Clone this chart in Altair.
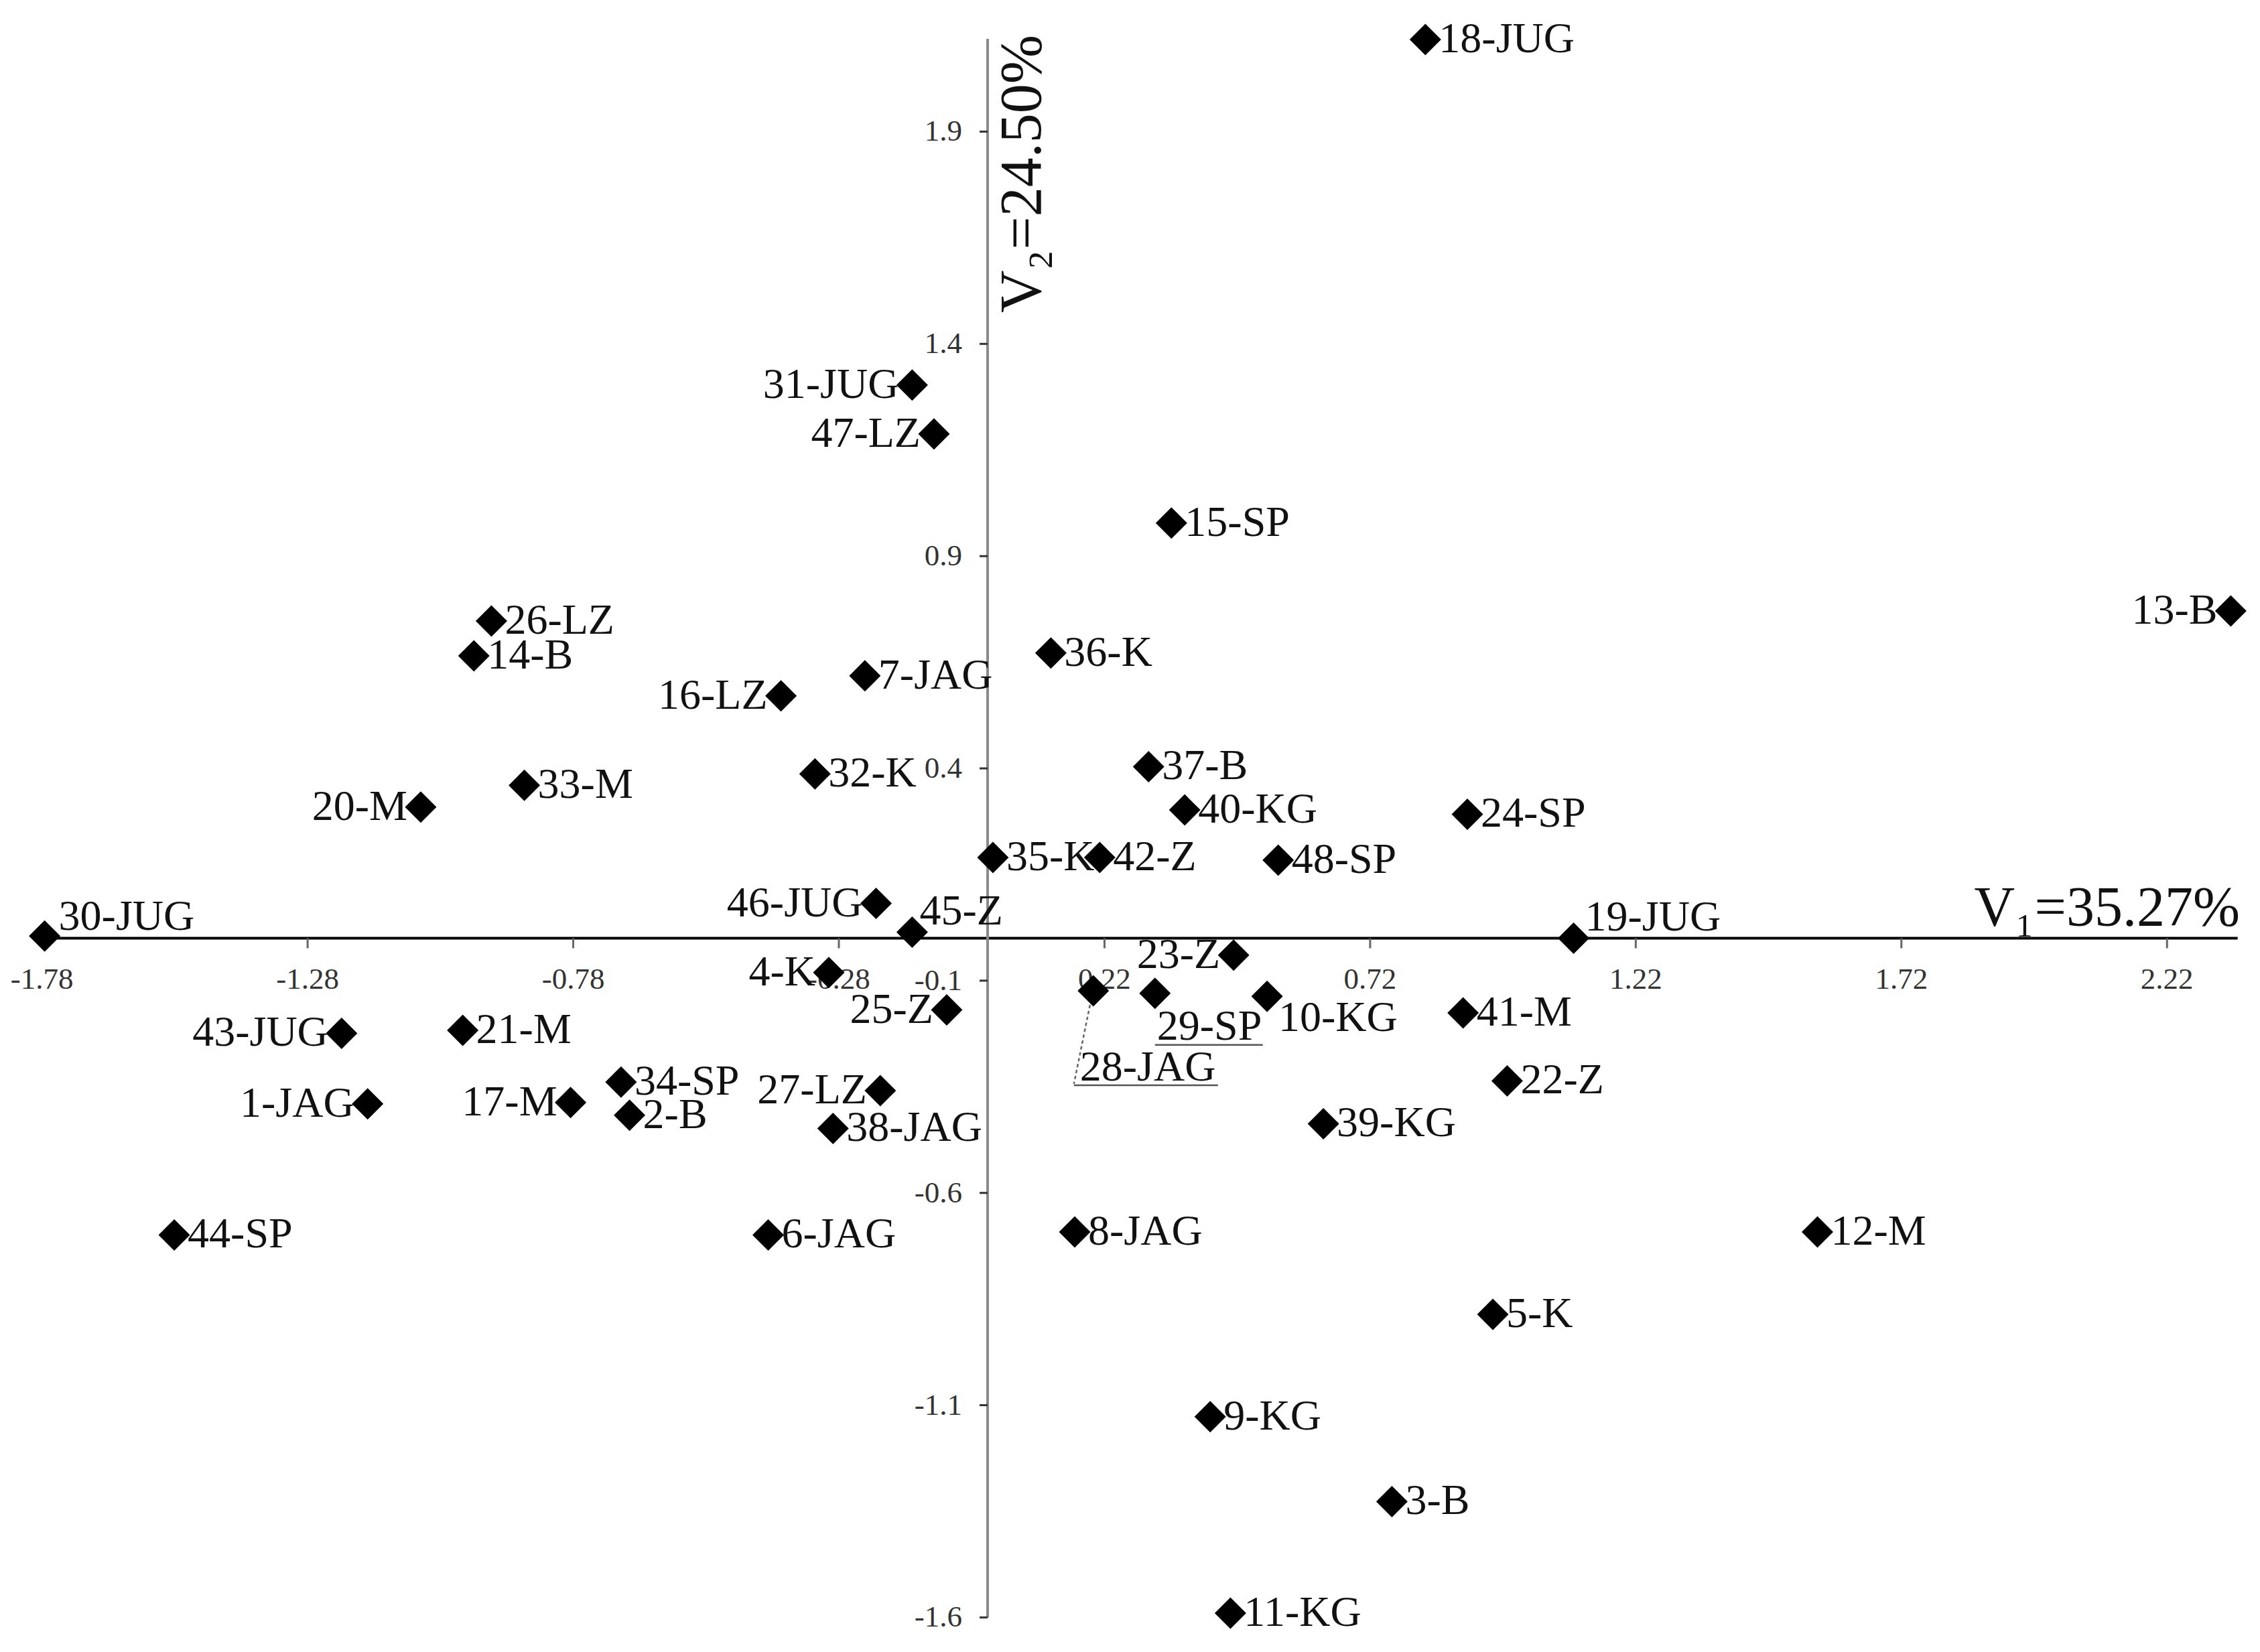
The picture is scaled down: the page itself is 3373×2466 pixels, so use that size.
import altair as alt
import pandas as pd

# ---------------- data ----------------
labels = ["1-JAG", "2-B", "3-B", "4-K", "5-K", "6-JAG", "7-JAG", "8-JAG", "9-KG", "10-KG",
          "11-KG", "12-M", "13-B", "14-B", "15-SP", "16-LZ", "17-M", "18-JUG", "19-JUG", "20-M",
          "21-M", "22-Z", "23-Z", "24-SP", "25-Z", "26-LZ", "27-LZ", "28-JAG", "29-SP", "30-JUG",
          "31-JUG", "32-K", "33-M", "34-SP", "35-K", "36-K", "37-B", "38-JAG", "39-KG", "40-KG",
          "41-M", "42-Z", "43-JUG", "44-SP", "45-Z", "46-JUG", "47-LZ", "48-SP"]
v1 = [-1.167, -0.674, 0.761, -0.299, 0.951, -0.413, -0.231, 0.164, 0.419, 0.526,
      0.457, 1.562, 2.340, -0.967, 0.346, -0.389, -0.785, 0.824, 1.103, -1.067,
      -0.988, 0.978, 0.463, 0.903, -0.077, -0.934, -0.202, 0.199, 0.315, -1.775,
      -0.142, -0.325, -0.872, -0.690, 0.010, 0.119, 0.303, -0.291, 0.632, 0.371,
      0.895, 0.211, -1.216, -1.531, -0.142, -0.210, -0.101, 0.547]
v2 = [-0.390, -0.417, -1.327, -0.081, -0.886, -0.699, 0.618, -0.692, -1.127, -0.137,
      -1.590, -0.692, 0.771, 0.665, 0.978, 0.571, -0.387, 2.117, 0.000, 0.309,
      -0.217, -0.336, -0.040, 0.292, -0.169, 0.747, -0.359, -0.124, -0.130, 0.005,
      1.303, 0.387, 0.360, -0.339, 0.190, 0.672, 0.404, -0.448, -0.437, 0.302,
      -0.176, 0.190, -0.224, -0.699, 0.014, 0.082, 1.188, 0.184]

x_ticks = [-1.78, -1.28, -0.78, -0.28, 0.22, 0.72, 1.22, 1.72, 2.22]
x_tick_labels = ["-1.78", "-1.28", "-0.78", "-0.28", "0.22", "0.72", "1.22", "1.72", "2.22"]
y_ticks = [-1.6, -1.1, -0.6, -0.1, 0.4, 0.9, 1.4, 1.9]
y_tick_labels = ["-1.6", "-1.1", "-0.6", "-0.1", "0.4", "0.9", "1.4", "1.9"]

x_title = "V\u2081=35.27%"
y_title = "V\u2082=24.50%"

# axis extents (data units)
x_axis_range = [-1.78, 2.353]
y_axis_range = [-1.6, 2.1185]

# ---------------- layout / style ----------------
W, H = 3350, 2440
X_DOMAIN = [-1.8489, 2.3761]
Y_DOMAIN = [-1.6530, 2.1974]
KX = W / (X_DOMAIN[1] - X_DOMAIN[0])   # px per unit
KY = H / (Y_DOMAIN[1] - Y_DOMAIN[0])

FONT = "Liberation Serif"

LEFT_SIDE = {"1-JAG", "4-K", "13-B", "16-LZ", "17-M", "20-M", "23-Z", "25-Z", "27-LZ",
             "31-JUG", "43-JUG", "46-JUG", "47-LZ"}
SPECIAL_OFFSETS = {  # label: (dx px, dy px)
    "30-JUG": (21, -28), "19-JUG": (17, -30), "45-Z": (11, -31),
    "10-KG": (17, 33), "29-SP": (3, 50), "28-JAG": (-20, 115),
}
UNDERLINES = {"28-JAG": (-29, 186, 141), "29-SP": (0, 161, 77)}   # x0, x1, y (px from point)
LEADERS = {"28-JAG": (-5, 21, -29, 139)}                        # x0, y0, x1, y1 (px)

xs = alt.Scale(domain=X_DOMAIN, nice=False, zero=False)
ys = alt.Scale(domain=Y_DOMAIN, nice=False, zero=False)


def X(f):
    return alt.X(f, type="quantitative", scale=xs, axis=None)


def Y(f):
    return alt.Y(f, type="quantitative", scale=ys, axis=None)


pts = pd.DataFrame({"label": labels, "x": v1, "y": v2})

rows = []
for lab, x, y in zip(labels, v1, v2):
    side = "L" if lab in LEFT_SIDE else "R"
    dx, dy = SPECIAL_OFFSETS.get(lab, (-20 if side == "L" else 20, 0))
    rows.append({"label": lab, "side": side, "lx": x + dx / KX, "ly": y - dy / KY})
lab_df = pd.DataFrame(rows)

ul_rows = []
for lab, (a, b, c) in UNDERLINES.items():
    i = labels.index(lab)
    ul_rows.append({"x": v1[i] + a / KX, "x2": v1[i] + b / KX, "y": v2[i] - c / KY})
ul_df = pd.DataFrame(ul_rows)

ld_rows = []
for lab, (a, b, c, d) in LEADERS.items():
    i = labels.index(lab)
    ld_rows.append({"x": v1[i] + a / KX, "y": v2[i] - b / KY,
                    "x2": v1[i] + c / KX, "y2": v2[i] - d / KY})
ld_df = pd.DataFrame(ld_rows)

# ---------------- layers ----------------
x_axis = alt.Chart(pd.DataFrame({"x": [x_axis_range[0]], "x2": [x_axis_range[1]], "y": [0.0]})).mark_rule(
    color="#000000", strokeWidth=4).encode(x=X("x"), x2="x2", y=Y("y"))

y_axis = alt.Chart(pd.DataFrame({"x": [0.0], "y": [y_axis_range[0]], "y2": [y_axis_range[1]]})).mark_rule(
    color="#8a8a8a", strokeWidth=4).encode(x=X("x"), y=Y("y"), y2="y2")

xt_df = pd.DataFrame({"x": x_ticks, "y": [0.0] * len(x_ticks), "y2": [-15 / KY] * len(x_ticks),
                      "t": x_tick_labels})
x_tick_marks = alt.Chart(xt_df).mark_rule(color="#666666", strokeWidth=3).encode(
    x=X("x"), y=Y("y"), y2="y2")
x_tick_text = alt.Chart(xt_df).mark_text(
    font=FONT, fontSize=45, color="#333333", baseline="alphabetic", align="center", dy=76
).encode(x=X("x"), y=Y("y"), text="t:N")

yt_df = pd.DataFrame({"y": y_ticks, "x": [0.0] * len(y_ticks), "x2": [-12 / KX] * len(y_ticks),
                      "t": y_tick_labels})
y_tick_marks = alt.Chart(yt_df).mark_rule(color="#333333", strokeWidth=3).encode(
    x=X("x"), x2="x2", y=Y("y"))
y_tick_text = alt.Chart(yt_df).mark_text(
    font=FONT, fontSize=45, color="#333333", baseline="middle", align="right", dx=-38
).encode(x=X("x"), y=Y("y"), text="t:N")

underlines = alt.Chart(ul_df).mark_rule(color="#555555", strokeWidth=2.5).encode(
    x=X("x"), x2="x2", y=Y("y"))
leaders = alt.Chart(ld_df).mark_rule(color="#666666", strokeWidth=2.5, strokeDash=[5, 4]).encode(
    x=X("x"), y=Y("y"), x2="x2", y2="y2")

diamonds = alt.Chart(pts).mark_point(
    shape="diamond", filled=True, size=2209, color="#000000", opacity=1, strokeWidth=0
).encode(x=X("x"), y=Y("y"))

text_r = alt.Chart(lab_df).transform_filter(alt.datum.side == "R").mark_text(
    font=FONT, fontSize=64, color="#111111", align="left", baseline="middle"
).encode(x=X("lx"), y=Y("ly"), text="label:N")
text_l = alt.Chart(lab_df).transform_filter(alt.datum.side == "L").mark_text(
    font=FONT, fontSize=64, color="#111111", align="right", baseline="middle"
).encode(x=X("lx"), y=Y("ly"), text="label:N")

title_x = alt.Chart(pd.DataFrame({"x": [2.357], "y": [0.029], "t": [x_title]})).mark_text(
    font=FONT, fontSize=84, color="#111111", align="right", baseline="alphabetic"
).encode(x=X("x"), y=Y("y"), text="t:N")
title_y = alt.Chart(pd.DataFrame({"x": [0.0996], "y": [1.473], "t": [y_title]})).mark_text(
    font=FONT, fontSize=88, color="#111111", align="left", baseline="alphabetic", angle=270
).encode(x=X("x"), y=Y("y"), text="t:N")

chart = alt.layer(
    x_axis, y_axis, x_tick_marks, y_tick_marks, x_tick_text, y_tick_text,
    underlines, leaders, diamonds, text_r, text_l, title_x, title_y
).properties(
    width=W, height=H, padding=0,
    autosize=alt.AutoSizeParams(type="none"),
    background="white",
).configure_view(strokeWidth=0)

chart.save("out.html", embed_options={"renderer": "svg", "actions": False})
